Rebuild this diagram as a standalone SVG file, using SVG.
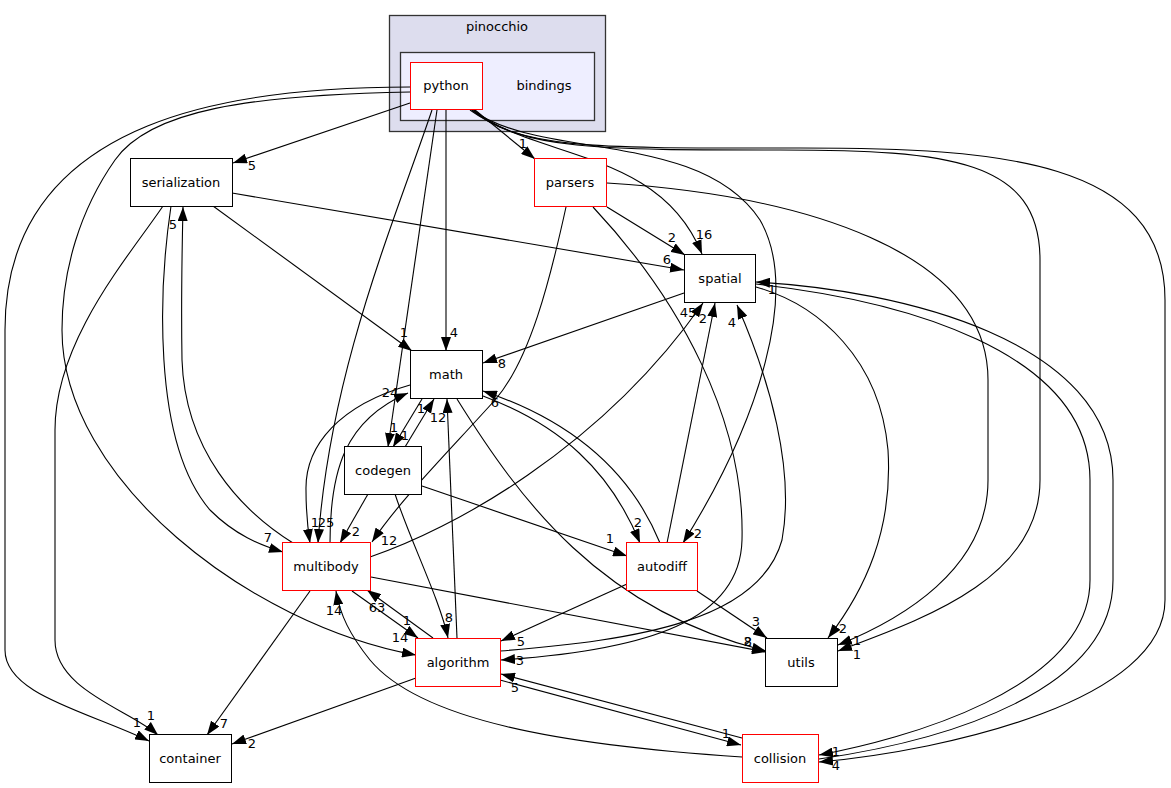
<svg xmlns="http://www.w3.org/2000/svg" width="1171" height="788" viewBox="0 0 1171 788">
<style>
.e{fill:none;stroke:#000;stroke-width:1.1;marker-end:url(#ah)}
.n{fill:#fff;stroke:#000;stroke-width:1}
.r{fill:#fff;stroke:#ff0000;stroke-width:1}
text{font-family:"DejaVu Sans","Liberation Sans",sans-serif;font-size:13px;fill:#000;text-anchor:middle}
</style>
<defs>
<marker id="ah" viewBox="0 0 14 10" refX="14" refY="5" markerWidth="14" markerHeight="10" orient="auto" markerUnits="userSpaceOnUse"><path d="M0,0 L14,5 L0,10 z" fill="#000"/></marker>
</defs>
<rect width="1171" height="788" fill="#fff"/>
<g id="cluster-pinocchio">
<rect x="389.5" y="15.5" width="216" height="116" fill="#ddddee" stroke="#333" stroke-width="1.3"/>
<text x="497" y="31">pinocchio</text>
</g>
<g id="cluster-bindings">
<rect x="400.5" y="52.5" width="194" height="68" fill="#eeeeff" stroke="#333" stroke-width="1.3"/>
<text x="544" y="90">bindings</text>
</g>
<g id="edges">
<path class="e" d="M410,103 L233,163"/>
<path class="e" d="M410,87 C250,87 5,110 5,330 L5,650 C5,695 90,712 149,741"/>
<path class="e" d="M410,92 C250,95 150,110 115,160 C80,210 62,270 62,330 C62,480 250,625 416,655"/>
<path class="e" d="M163,206 C130,255 55,340 55,430 L55,640 C55,690 130,710 158,735"/>
<path class="e" d="M171,206 C160,280 150,440 210,510 C235,535 260,545 283,552"/>
<path class="e" d="M293,543 C240,510 185,450 182,360 C181,300 182,250 183,207"/>
<path class="e" d="M213,206 L412,351"/>
<path class="e" d="M232,193 L684,270"/>
<path class="e" d="M432,110 C395,220 330,370 318,543"/>
<path class="e" d="M410,385 C340,405 305,445 306,490 C306,515 308,530 310,543"/>
<path class="e" d="M330,543 C330,470 345,420 408,393"/>
<path class="e" d="M446,110 L446,351"/>
<path class="e" d="M437,110 L388,447"/>
<path class="e" d="M475,110 L535,159"/>
<path class="e" d="M422,399 L393,447"/>
<path class="e" d="M405,447 L434,399"/>
<path class="e" d="M457,638 L447,399"/>
<path class="e" d="M395,494 C410,540 440,600 448,638"/>
<path class="e" d="M368,494 L340,543"/>
<path class="e" d="M422,486 L627,556"/>
<path class="e" d="M483,396 C560,425 610,470 640,543"/>
<path class="e" d="M660,543 C630,470 570,420 483,391"/>
<path class="e" d="M667,543 L715,303"/>
<path class="e" d="M370,557 C450,530 600,450 703,303"/>
<path class="e" d="M500,651 C640,640 760,620 782,540 C795,470 770,380 737,305"/>
<path class="e" d="M593,207 C680,300 745,420 742,540 C740,620 650,650 501,660"/>
<path class="e" d="M607,207 L685,255"/>
<path class="e" d="M566,207 C550,280 530,360 495,400 C450,450 400,500 372,542"/>
<path class="e" d="M607,183 C800,195 988,250 988,380 L988,480 C988,570 900,620 838,645"/>
<path class="e" d="M474,110 C520,150 600,150 780,150 C950,150 1040,160 1040,260 L1040,480 C1040,580 920,620 838,651"/>
<path class="e" d="M472,110 C520,150 600,148 800,148 C1000,148 1165,160 1165,300 L1165,600 C1165,700 950,750 819,762"/>
<path class="e" d="M470,110 C540,160 660,150 702,254"/>
<path class="e" d="M472,110 C540,160 700,130 760,220 C800,290 760,420 683,543"/>
<path class="e" d="M684,293 L483,363"/>
<path class="e" d="M756,287 C820,305 880,360 888,450 C893,530 865,590 828,638"/>
<path class="e" d="M756,284 C900,300 1090,350 1090,480 L1090,580 C1090,690 900,740 819,755"/>
<path class="e" d="M819,759 C950,740 1113,690 1113,580 L1113,480 C1113,340 900,290 756,282"/>
<path class="e" d="M697,591 L767,638"/>
<path class="e" d="M627,584 L501,641"/>
<path class="e" d="M371,577 L766,652"/>
<path class="e" d="M457,399 C520,500 600,610 766,651"/>
<path class="e" d="M352,591 L418,638"/>
<path class="e" d="M433,638 L367,590"/>
<path class="e" d="M310,591 L207,735"/>
<path class="e" d="M416,678 L232,744"/>
<path class="e" d="M742,757 C560,745 420,720 370,660 C350,635 340,615 336,591"/>
<path class="e" d="M500,680 L741,745"/>
<path class="e" d="M742,738 L501,674"/>
</g>
<g id="edge-labels">
<text x="252" y="170">5</text>
<text x="137" y="727">1</text>
<text x="151" y="720">1</text>
<text x="224" y="728">7</text>
<text x="252" y="748">2</text>
<text x="400" y="642">14</text>
<text x="407" y="625">1</text>
<text x="377" y="612">63</text>
<text x="334" y="615">14</text>
<text x="449" y="622">8</text>
<text x="521" y="646">5</text>
<text x="520" y="665">3</text>
<text x="515" y="692">5</text>
<text x="268" y="542">7</text>
<text x="315" y="527">1</text>
<text x="326" y="527">25</text>
<text x="356" y="536">2</text>
<text x="389" y="545">12</text>
<text x="390" y="397">24</text>
<text x="394" y="432">1</text>
<text x="405" y="440">1</text>
<text x="421" y="413">1</text>
<text x="438" y="422">12</text>
<text x="454" y="337">4</text>
<text x="404" y="337">1</text>
<text x="502" y="368">8</text>
<text x="495" y="407">6</text>
<text x="173" y="229">5</text>
<text x="523" y="148">1</text>
<text x="704" y="239">16</text>
<text x="672" y="242">2</text>
<text x="667" y="264">6</text>
<text x="772" y="294">1</text>
<text x="688" y="317">45</text>
<text x="703" y="323">2</text>
<text x="732" y="327">4</text>
<text x="638" y="527">2</text>
<text x="698" y="538">2</text>
<text x="610" y="543">1</text>
<text x="756" y="626">3</text>
<text x="748" y="646">8</text>
<text x="748" y="646">2</text>
<text x="843" y="633">2</text>
<text x="857" y="645">1</text>
<text x="857" y="659">1</text>
<text x="726" y="738">1</text>
<text x="836" y="756">1</text>
<text x="836" y="770">4</text>
</g>
<g id="node-python"><rect class="r" x="410.5" y="62.5" width="72" height="47"/><text x="446" y="90">python</text></g>
<g id="node-serialization"><rect class="n" x="130.5" y="158.5" width="102" height="48"/><text x="181" y="187">serialization</text></g>
<g id="node-parsers"><rect class="r" x="534.5" y="158.5" width="72" height="48"/><text x="570" y="187">parsers</text></g>
<g id="node-spatial"><rect class="n" x="684.5" y="254.5" width="71" height="48"/><text x="720" y="283">spatial</text></g>
<g id="node-math"><rect class="n" x="410.5" y="350.5" width="72" height="48"/><text x="446" y="379">math</text></g>
<g id="node-codegen"><rect class="n" x="344.5" y="446.5" width="77" height="48"/><text x="383" y="475">codegen</text></g>
<g id="node-multibody"><rect class="r" x="282.5" y="542.5" width="88" height="48"/><text x="326" y="571">multibody</text></g>
<g id="node-autodiff"><rect class="r" x="626.5" y="542.5" width="71" height="48"/><text x="662" y="571">autodiff</text></g>
<g id="node-algorithm"><rect class="r" x="415.5" y="638.5" width="85" height="48"/><text x="458" y="667">algorithm</text></g>
<g id="node-utils"><rect class="n" x="765.5" y="638.5" width="72" height="48"/><text x="801" y="667">utils</text></g>
<g id="node-container"><rect class="n" x="149.5" y="734.5" width="82" height="48"/><text x="190" y="763">container</text></g>
<g id="node-collision"><rect class="r" x="742.5" y="734.5" width="76" height="48"/><text x="780" y="763">collision</text></g>
</svg>
